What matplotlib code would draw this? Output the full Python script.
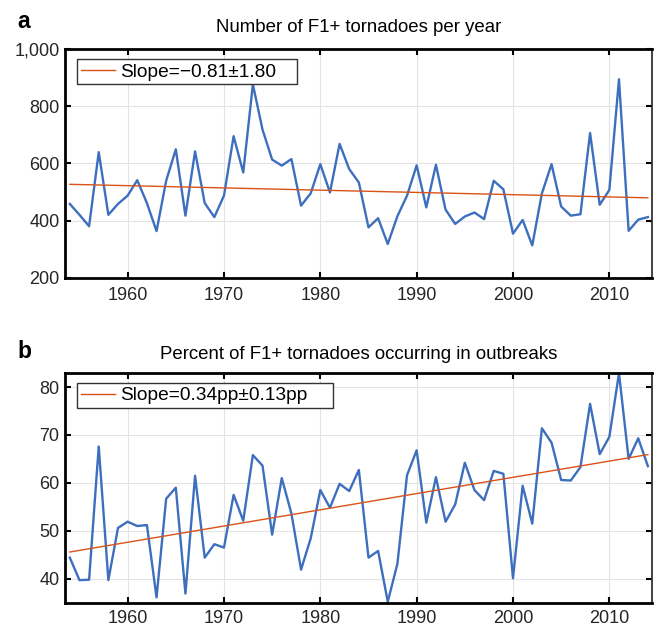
import matplotlib
matplotlib.use('Agg')
import matplotlib.pyplot as plt
from matplotlib.ticker import FuncFormatter
import numpy as np

plt.rcParams['font.family'] = ['Liberation Sans', 'DejaVu Sans']

years = np.arange(1954, 2015)

# number of F1+ tornadoes per year
counts = [458, 420, 380, 639, 420, 458, 487, 541, 461, 363,
          539, 649, 417, 642, 461, 412, 487, 695, 568, 876,
          718, 613, 592, 615, 452, 495, 597, 498, 668, 580,
          533, 376, 408, 318, 415, 487, 593, 446, 595, 438,
          388, 414, 428, 405, 539, 509, 354, 402, 313, 495,
          597, 449, 417, 422, 706, 455, 507, 894, 364, 403,
          412]

# percent of F1+ tornadoes occurring in outbreaks
percent = [44.4, 39.7, 39.8, 67.6, 39.7, 50.6, 51.9, 51.0, 51.2, 36.1,
           56.7, 59.0, 36.9, 61.5, 44.4, 47.2, 46.5, 57.5, 52.1, 65.8,
           63.6, 49.2, 61.0, 53.6, 41.9, 48.4, 58.5, 54.8, 59.8, 58.3,
           62.7, 44.4, 45.8, 35.2, 43.1, 61.6, 66.8, 51.7, 61.2, 51.9,
           55.5, 64.2, 58.5, 56.4, 62.5, 61.9, 40.1, 59.4, 51.5, 71.4,
           68.4, 60.6, 60.5, 63.3, 76.5, 66.0, 69.6, 82.9, 65.0, 69.3,
           63.5]

titles = ['Number of F1+ tornadoes per year',
          'Percent of F1+ tornadoes occurring in outbreaks']
slope_labels = ['Slope=\u22120.81\u00b11.80', 'Slope=0.34pp\u00b10.13pp']
panel_labels = ['a', 'b']

blue = '#3d6fbe'
orange = '#d95319'
text_col = '#262626'


def style_axis(ax, ylim, yticks, title, pad, xpad):
    ax.set_xlim(1953.5, 2014.4)
    ax.set_ylim(*ylim)
    ax.set_xticks([1960, 1970, 1980, 1990, 2000, 2010])
    ax.set_yticks(yticks)
    ax.grid(True, color='#e3e3e3', linewidth=0.8)
    ax.set_axisbelow(True)
    ax.tick_params(direction='in', length=4, width=1.5, top=True, right=True,
                   labelsize=13, colors=text_col)
    ax.tick_params(axis='x', pad=xpad, colors='black', labelcolor=text_col)
    ax.tick_params(axis='y', pad=4, colors='black', labelcolor=text_col)
    for side in ['left', 'bottom', 'top']:
        ax.spines[side].set_linewidth(2)
        ax.spines[side].set_color('black')
    ax.spines['right'].set_linewidth(1.2)
    ax.spines['right'].set_color('#222222')
    ax.set_title(title, fontsize=13.4, color='black', pad=pad)


def plot_panel(ax, values, label, leg_width):
    slope, intercept = np.polyfit(years, values, 1)
    ax.plot(years, values, color=blue, linewidth=1.7)
    ax.plot(years, slope * years + intercept, color=orange, linewidth=1.0,
            label=label)
    leg = ax.legend(loc='upper left', bbox_to_anchor=(0.02, 0, leg_width, 0.955),
                    mode='expand', borderaxespad=0, fancybox=False,
                    framealpha=1, edgecolor='#333333', fontsize=13.8,
                    handlelength=1.8, handletextpad=0.25, borderpad=0.2)
    leg.get_frame().set_linewidth(1.0)
    return leg


def main():
    fig = plt.figure(figsize=(6.56, 6.27), dpi=100)
    ax1 = fig.add_axes([0.0991, 0.5571, 0.8944, 0.3648])
    ax2 = fig.add_axes([0.0991, 0.0388, 0.8944, 0.3668])

    plot_panel(ax1, counts, slope_labels[0], 0.375)
    style_axis(ax1, (200, 1000), [200, 400, 600, 800, 1000], titles[0], 12, 7)
    ax1.yaxis.set_major_formatter(FuncFormatter(lambda v, p: f'{int(v):,}'))

    plot_panel(ax2, percent, slope_labels[1], 0.436)
    style_axis(ax2, (35, 83), [40, 50, 60, 70, 80], titles[1], 9.5, 5.5)

    fig.text(17 / 656, 0.955, panel_labels[0], fontsize=16.5,
             fontweight='bold', color='black')
    fig.text(17 / 656, 0.429, panel_labels[1], fontsize=16.5,
             fontweight='bold', color='black')

    plt.savefig('out.png', dpi=100)


if __name__ == '__main__':
    main()
